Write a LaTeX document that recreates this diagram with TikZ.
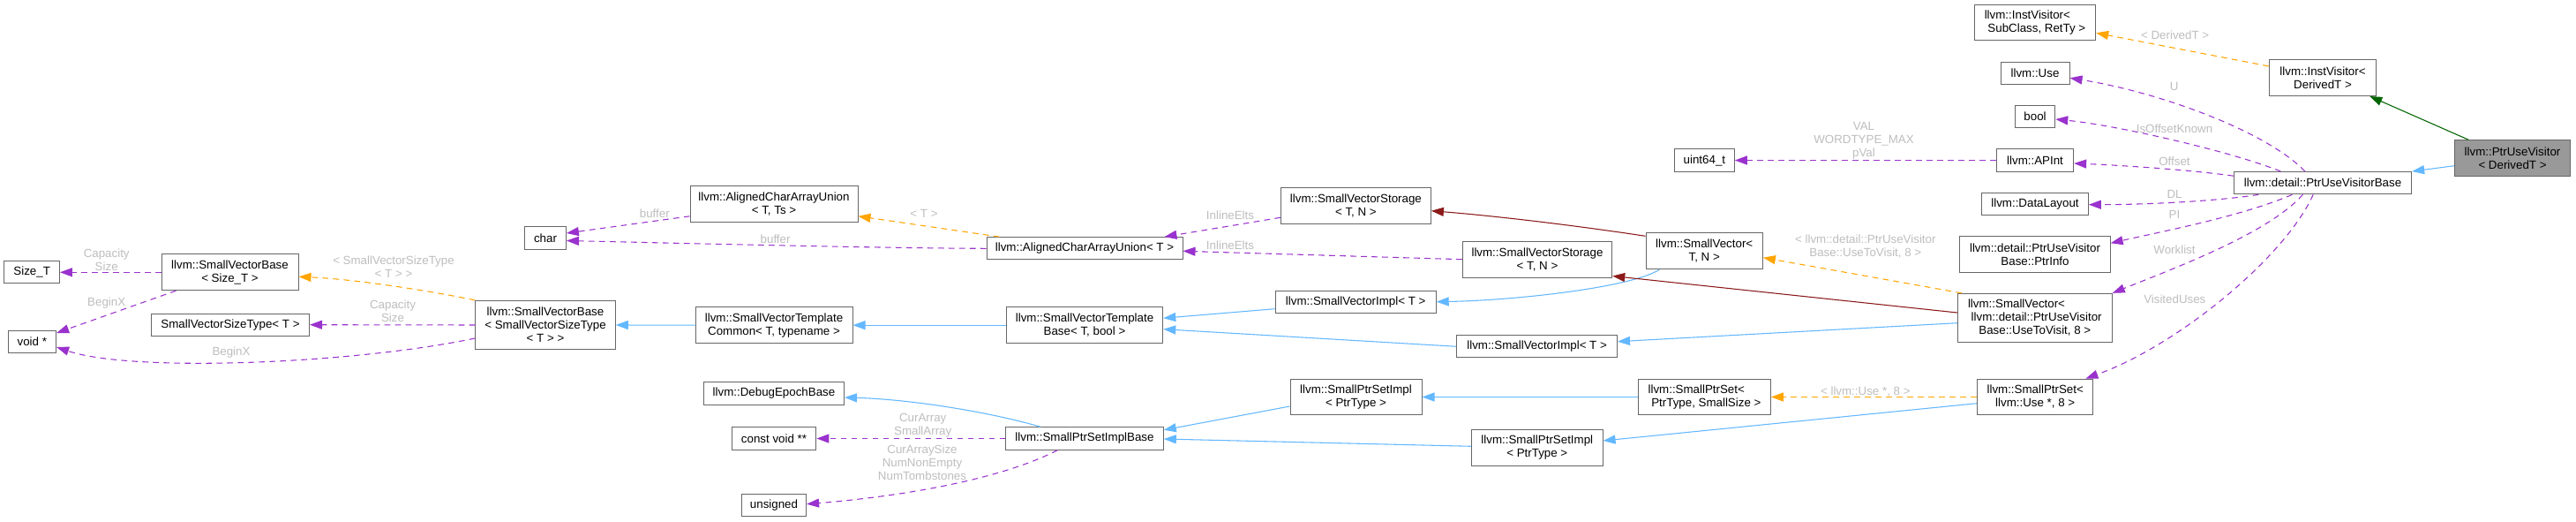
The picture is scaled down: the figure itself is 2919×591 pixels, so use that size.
\documentclass[tikz,border=0pt]{standalone}
\usepackage{fontspec}
\setmainfont{Liberation Sans}
\usetikzlibrary{arrows.meta,calc}
\definecolor{pubblue}{HTML}{63B8FF}
\definecolor{protgreen}{HTML}{006400}
\definecolor{privred}{HTML}{8B1A1A}
\definecolor{usepurple}{HTML}{9A32CD}
\definecolor{tmplorange}{HTML}{FFA500}
\definecolor{lblgrey}{HTML}{BEBEBE}
\definecolor{boxgrey}{HTML}{666666}
\definecolor{focusgrey}{HTML}{999999}
\newcommand\lfirst[2]{\makebox[0pt][l]{#1}\hphantom{#2}}
\tikzset{
  cls/.style={draw=boxgrey, fill=white, line width=0.75pt, inner sep=0pt, align=center,
    font=\fontsize{10}{11.25}\selectfont, text=black},
  one/.style={cls, minimum height=19pt},
  two/.style={cls, minimum height=30.5pt},
  three/.style={cls, minimum height=41.5pt},
  mw/.style={minimum width=#1*0.75pt},
  lbl/.style={font=\fontsize{10}{11.25}\selectfont, text=lblgrey, align=center, inner sep=0pt},
  ed/.style={line width=0.8pt, -{Triangle[length=10.5pt,width=7.5pt]}},
  pub/.style={ed, draw=pubblue},
  prot/.style={ed, draw=protgreen},
  priv/.style={ed, draw=privred},
  usage/.style={ed, draw=usepurple, dash pattern=on 5pt off 4pt},
  tmpl/.style={ed, draw=tmplorange, dash pattern=on 5pt off 4pt},
}
\begin{document}
\begin{tikzpicture}[x=0.75pt, y=-0.75pt]
\useasboundingbox (0,0) rectangle (2919,591);
\fill[white] (0,0) rectangle (2919,591);

% ---- nodes ----
\node[one, mw=62.5] (SizeT) at (36.2,308.3) {Size\_T};
\node[one, mw=54.6] (voidp) at (36.3,387) {void *};
\node[two, mw=155] (SVBs) at (260.5,308.3) {llvm::SmallVectorBase\\< Size\_T >};
\node[one, mw=179] (SVST) at (261,367.7) {SmallVectorSizeType< T >};
\node[three, mw=158.5] (SVBv) at (618,368) {llvm::SmallVectorBase\\< SmallVectorSizeType\\< T > >};
\node[one, mw=46.8] (char) at (618,269.5) {char};
\node[two, mw=190] (ACAU2) at (877,230.8) {llvm::AlignedCharArrayUnion\\< T, Ts >};
\node[two, mw=178] (SVTC) at (877,368.2) {llvm::SmallVectorTemplate\\Common< T, typename >};
\node[one, mw=159] (DEB) at (877,445.5) {llvm::DebugEpochBase};
\node[one, mw=95.7] (cvoid) at (877,496.5) {const void **};
\node[one, mw=73.2] (unsig) at (877,572.2) {unsigned};
\node[one, mw=222] (ACAU1) at (1229,281.3) {llvm::AlignedCharArrayUnion< T >};
\node[two, mw=177.5] (SVTB) at (1229,368.2) {llvm::SmallVectorTemplate\\Base< T, bool >};
\node[one, mw=178.6] (SPSB) at (1229,496.5) {llvm::SmallPtrSetImplBase};
\node[two, mw=170] (SVS1) at (1536.4,233.3) {llvm::SmallVectorStorage\\< T, N >};
\node[one, mw=182] (SVI1) at (1536.2,341.7) {llvm::SmallVectorImpl< T >};
\node[two, mw=149] (SPSI1) at (1536.5,449.5) {llvm::SmallPtrSetImpl\\< PtrType >};
\node[two, mw=169.5] (SVS2) at (1742,293.7) {llvm::SmallVectorStorage\\< T, N >};
\node[one, mw=181.8] (SVI2) at (1741.6,392.3) {llvm::SmallVectorImpl< T >};
\node[two, mw=148.5] (SPSI2) at (1741.8,506.8) {llvm::SmallPtrSetImpl\\< PtrType >};
\node[one, mw=67.8] (u64) at (1931.4,181.5) {uint64\_t};
\node[two, mw=132.4] (SVTN) at (1931.2,284.3) {llvm::SmallVector<\\T, N >};
\node[two, mw=149.7] (SPSPT) at (1931.5,449.5) {\lfirst{llvm::SmallPtrSet<}{\ PtrType, SmallSize >}\\\ PtrType, SmallSize >};
\node[two, mw=137.4] (IVSR) at (2306,25.5) {\lfirst{llvm::InstVisitor<}{\ SubClass, RetTy >}\\\ SubClass, RetTy >};
\node[one, mw=78] (Use) at (2306,83) {llvm::Use};
\node[one, mw=45.5] (bool) at (2306,132) {bool};
\node[one, mw=87.3] (APInt) at (2306,181.5) {llvm::APInt};
\node[one, mw=120.6] (DL) at (2306,231.2) {llvm::DataLayout};
\node[two, mw=170.3] (PI) at (2306,288) {llvm::detail::PtrUseVisitor\\Base::PtrInfo};
\node[three, mw=175] (SVUTV) at (2305.8,360) {\lfirst{llvm::SmallVector<}{\ llvm::detail::PtrUseVisitor}\\\ llvm::detail::PtrUseVisitor\\Base::UseToVisit, 8 >};
\node[two, mw=131.3] (SPSU) at (2306.2,449.5) {llvm::SmallPtrSet<\\llvm::Use *, 8 >};
\node[two, mw=121.5] (IVD) at (2632,88.2) {llvm::InstVisitor<\\DerivedT >};
\node[one, mw=201.3] (PUVB) at (2632,207.2) {llvm::detail::PtrUseVisitorBase};
\node[two, mw=131, fill=focusgrey] (PUV) at (2847,179) {llvm::PtrUseVisitor\\< DerivedT >};

% ---- edges ----
\draw[usage] (SVBs.west) -- (SizeT.east);
\draw[usage] ($(SVBs.south west)+(17,0)$) -- ($(voidp.east)+(0,-10)$);
\draw[tmpl] (SVBv.north west) .. controls (480,328) and (400,316) .. ($(SVBs.east)+(0,5)$);
\draw[usage] (SVBv.west) -- (SVST.east);
\draw[usage] ($(SVBv.west)+(0,15)$) .. controls (400,412) and (150,422) .. ($(voidp.east)+(0,6)$);
\draw[pub] (SVTC.west) -- (SVBv.east);
\draw[usage] ($(ACAU2.west)+(0,14)$) -- ($(char.east)+(0,-5.5)$);
\draw[usage] (ACAU1.west) .. controls (1000,281) and (800,276) .. ($(char.east)+(0,3)$);
\draw[tmpl] ($(ACAU1.north west)+(15,0)$) -- ($(ACAU2.east)+(0,14)$);
\draw[usage] ($(SVS1.west)+(0,13)$) -- ($(ACAU1.north east)+(-21,0)$);
\draw[usage] (SVS2.west) -- ($(ACAU1.east)+(0,3)$);
\draw[pub] (SVTB.west) -- (SVTC.east);
\draw[pub] ($(SVI1.west)+(0,8)$) -- ($(SVTB.east)+(0,-8)$);
\draw[pub] (SVI2.west) -- ($(SVTB.east)+(0,4.5)$);
\draw[priv] ($(SVTN.west)+(0,-17)$) .. controls (1790,256) and (1700,245) .. ($(SVS1.east)+(0,5.4)$);
\draw[pub] ($(SVTN.south west)+(16,0)$) .. controls (1850,325) and (1720,340) .. (SVI1.east);
\draw[priv] ($(SVUTV.west)+(0,-6)$) -- ($(SVS2.south east)+(0,-2)$);
\draw[pub] ($(SVUTV.west)+(0,5.7)$) -- ($(SVI2.east)+(0,-5.6)$);
\draw[tmpl] ($(SVUTV.north west)+(5,0)$) -- ($(SVTN.east)+(0,7.4)$);
\draw[usage] (APInt.west) -- (u64.east);
\draw[pub] ($(SPSB.north west)+(40,0)$) .. controls (1120,466) and (1030,452) .. ($(DEB.east)+(0,4.5)$);
\draw[usage] (SPSB.west) -- (cvoid.east);
\draw[usage] ($(SPSB.south west)+(59,0)$) .. controls (1130,545) and (1010,563) .. ($(unsig.east)+(0,-1.5)$);
\draw[pub] ($(SPSI1.west)+(0,10.5)$) -- ($(SPSB.north east)+(0,3.5)$);
\draw[pub] ($(SPSI2.west)+(0,-1.5)$) -- ($(SPSB.east)+(0,0.5)$);
\draw[pub] (SPSPT.west) -- (SPSI1.east);
\draw[pub] ($(SPSU.west)+(0,7.2)$) -- ($(SPSI2.east)+(0,-7.8)$);
\draw[tmpl] (SPSU.west) -- (SPSPT.east);
\draw[tmpl] ($(IVD.north west)+(0,7.6)$) -- ($(IVSR.east)+(0,11.8)$);
\draw[prot] ($(PUV.north west)+(16,0)$) -- ($(IVD.south east)+(-8,0)$);
\draw[pub] ($(PUV.west)+(0,8.7)$) -- (PUVB.north east);
\draw[usage] ($(PUVB.north west)+(81,0)$) .. controls (2570,150) and (2450,105) .. ($(Use.east)+(0,5.3)$);
\draw[usage] ($(PUVB.north west)+(53.5,0)$) .. controls (2530,172) and (2400,142) .. ($(bool.east)+(0,3)$);
\draw[usage] ($(PUVB.west)+(0,-8)$) .. controls (2480,192) and (2400,187) .. ($(APInt.east)+(0,3.5)$);
\draw[usage] ($(PUVB.south west)+(28.5,0)$) .. controls (2510,228) and (2430,231.7) .. ($(DL.east)+(0,0.5)$);
\draw[usage] ($(PUVB.south west)+(66.5,0)$) .. controls (2540,245) and (2450,262) .. ($(PI.east)+(0,-12.7)$);
\draw[usage] ($(PUVB.south west)+(78.5,0)$) .. controls (2570,265) and (2460,305) .. (SVUTV.north east);
\draw[usage] ($(PUVB.south west)+(90.3,0)$) .. controls (2590,290) and (2470,390) .. ($(SPSU.north east)+(-9,0)$);

% ---- edge labels ----
\node[lbl] (l1) at (120.7,294.5) {Capacity\\Size};
\node[lbl] (l2) at (120.7,342.7) {BeginX};
\node[lbl] (l3) at (446,302.5) {< SmallVectorSizeType\\< T > >};
\node[lbl] (l4) at (445,352) {Capacity\\Size};
\node[lbl] (l5) at (262,399.3) {BeginX};
\node[lbl] (l6) at (741.8,241.3) {buffer};
\node[lbl] (l7) at (878.6,270.3) {buffer};
\node[lbl] (l8) at (1047,241.7) {< T >};
\node[lbl] (l9) at (1394,243.3) {InlineElts};
\node[lbl] (l10) at (1394,277.7) {InlineElts};
\node[lbl] (l11) at (2113.8,278.8) {< llvm::detail::PtrUseVisitor\\Base::UseToVisit, 8 >};
\node[lbl] (l12) at (2112,159.3) {VAL\\WORDTYPE\_MAX\\pVal};
\node[lbl] (l13) at (1045.7,482) {CurArray\\SmallArray};
\node[lbl] (l14) at (1045,523.7) {CurArraySize\\NumNonEmpty\\NumTombstones};
\node[lbl] (l15) at (2113.8,443.3) {< llvm::Use *, 8 >};
\node[lbl] (l16) at (2464.6,40) {< DerivedT >};
\node[lbl] (l17) at (2463.6,98.3) {U};
\node[lbl] (l18) at (2464,145.7) {IsOffsetKnown};
\node[lbl] (l19) at (2464,182.7) {Offset};
\node[lbl] (l20) at (2464,220) {DL};
\node[lbl] (l21) at (2464,243.3) {PI};
\node[lbl] (l22) at (2464,282.7) {Worklist};
\node[lbl] (l23) at (2464.3,338.3) {VisitedUses};
\end{tikzpicture}
\end{document}
